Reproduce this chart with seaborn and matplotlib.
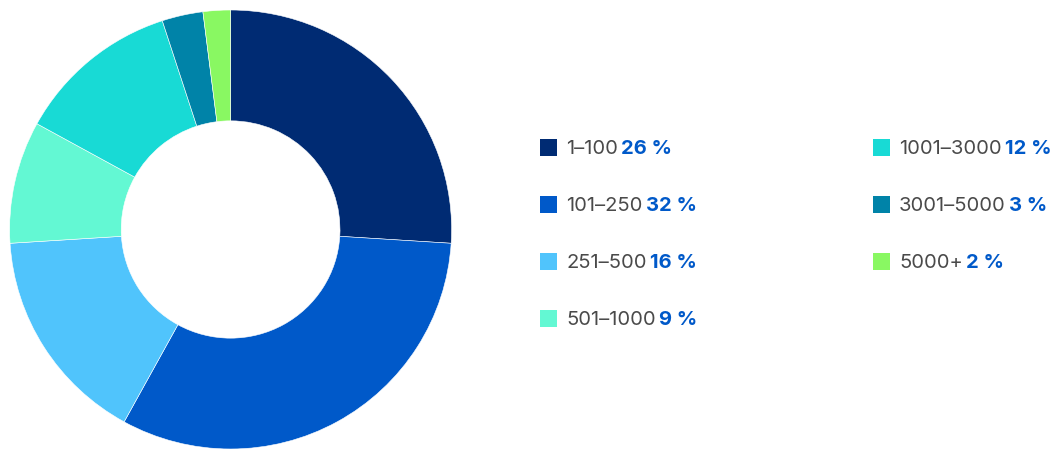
import matplotlib
matplotlib.use("Agg")
import matplotlib.pyplot as plt
import seaborn as sns

# Company size bands and their share of the total
categories = ["1–100", "101–250", "251–500", "501–1000", "1001–3000", "3001–5000", "5000+"]
shares = [26, 32, 16, 9, 12, 3, 2]
colors = ["#002B73", "#0059C9", "#50C4FC", "#63F8D3", "#18DAD5", "#0083A8", "#89F862"]

sns.set_theme(style="white")
plt.rcParams["font.family"] = ["Inter", "DejaVu Sans"]

W, H = 1057, 452
fig = plt.figure(figsize=(W / 100, H / 100), dpi=100)

# Donut chart
cx, cy = 230.6, 452 - 230.5
rx, ry = 221, 219.5
ax = fig.add_axes([(cx - rx) / W, (cy - ry) / H, 2 * rx / W, 2 * ry / H])
palette = sns.color_palette(colors)
ax.pie(shares, colors=palette, startangle=90, counterclock=False, radius=1,
       wedgeprops=dict(width=0.505, edgecolor="white", linewidth=0.4))
ax.set_xlim(-1, 1)
ax.set_ylim(-1, 1)
ax.set_aspect("auto")
ax.axis("off")

# Legend laid out in two columns
col_x = [540, 873]
row_y = [148, 205, 262, 319]
sq = 17
for i, (cat, val, col) in enumerate(zip(categories, shares, palette)):
    c = 0 if i < 4 else 1
    rr = i if i < 4 else i - 4
    x0, y0 = col_x[c], H - row_y[rr]
    fig.patches.append(plt.Rectangle((x0 / W, (y0 - sq / 2) / H), sq / W, sq / H,
                                     transform=fig.transFigure, color=col, lw=0))
    t = fig.text((x0 + 26) / W, (y0 - 1) / H, cat, fontsize=14.5, color="#4a4a4a",
                 va="center", ha="left")
    plt.annotate(f"{val} %", xy=(1, 0.5), xycoords=t, xytext=(2.5, 0),
                 textcoords="offset points", fontsize=14.5, fontweight="bold",
                 color="#0059C9", va="center", ha="left")

fig.savefig("out.png", dpi=100, facecolor="white")
